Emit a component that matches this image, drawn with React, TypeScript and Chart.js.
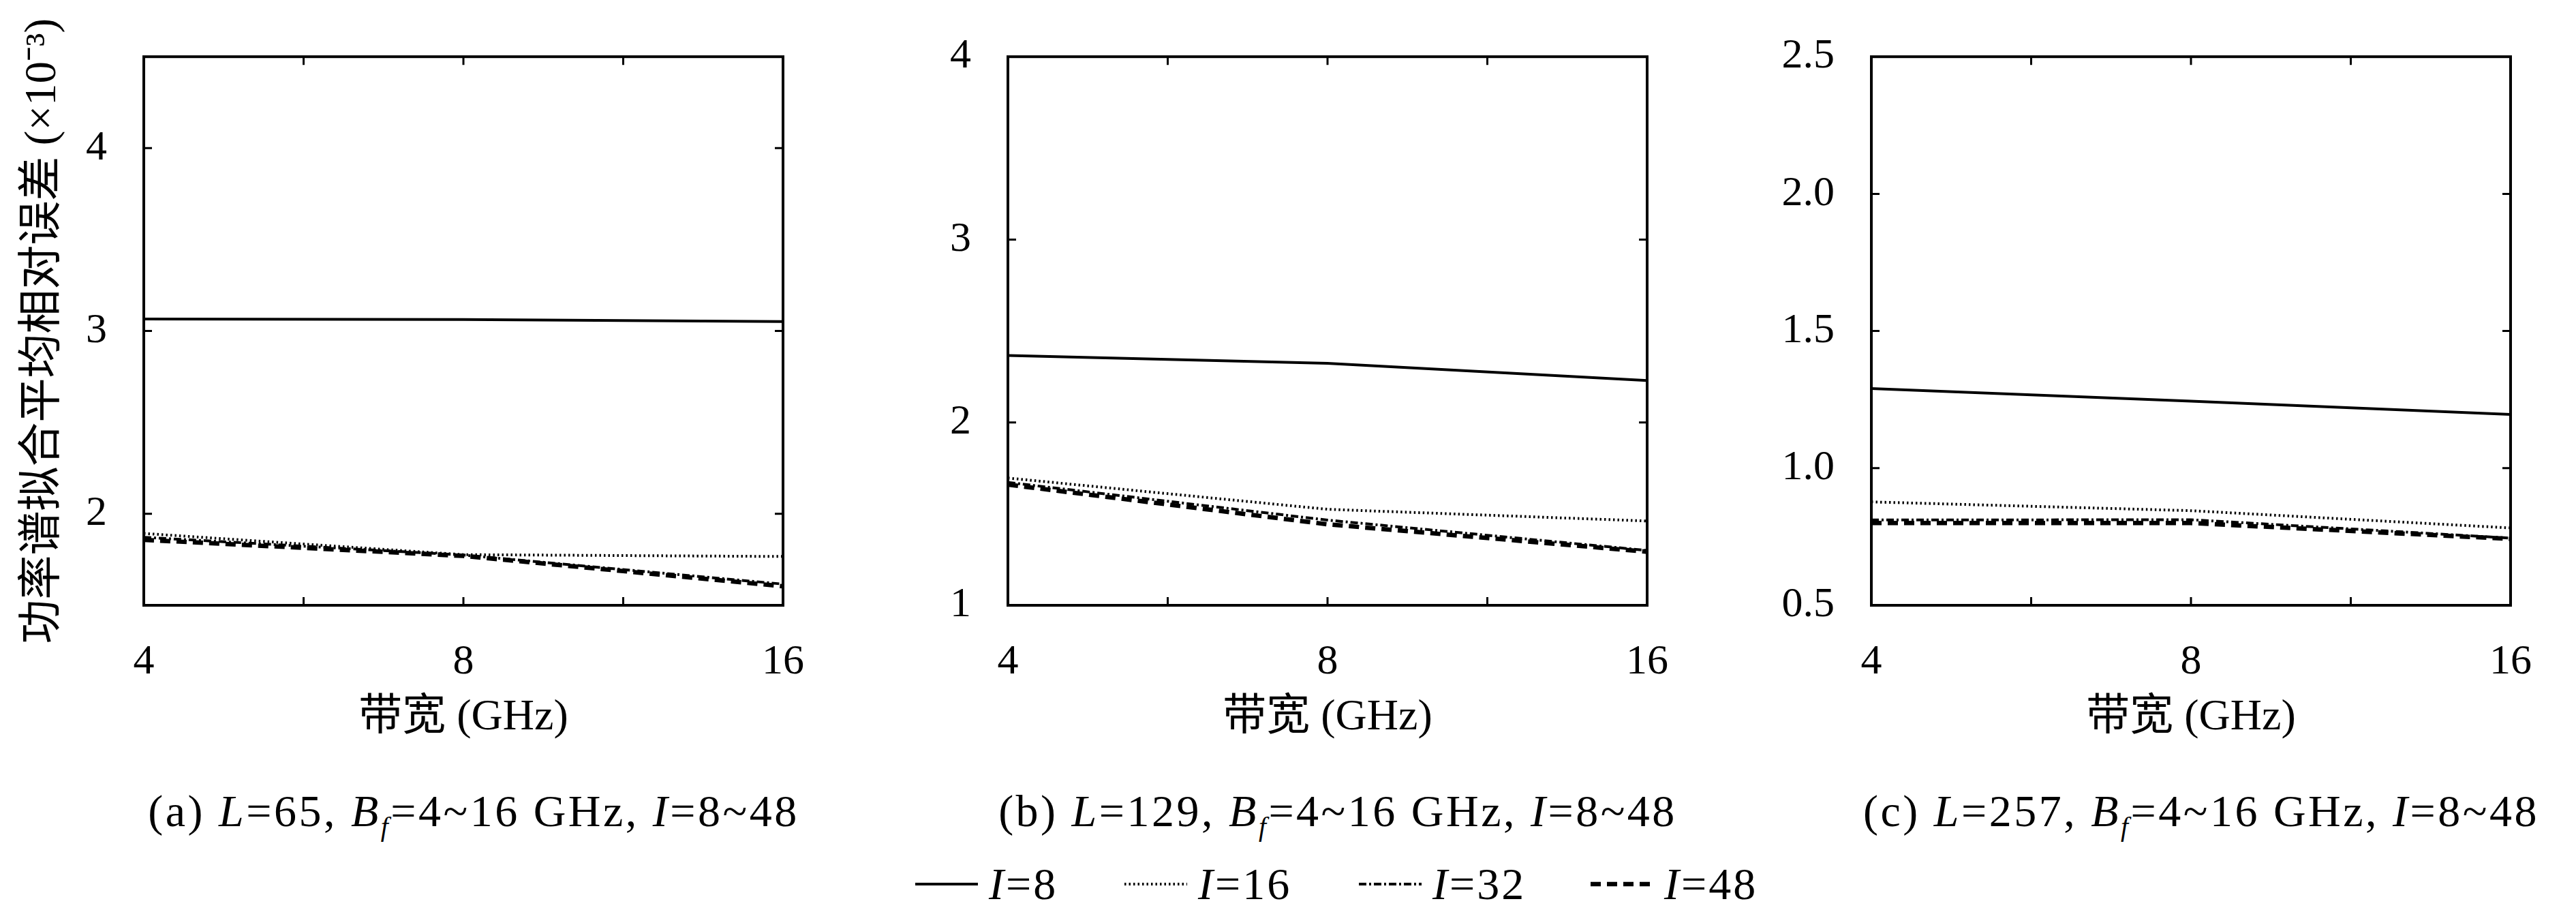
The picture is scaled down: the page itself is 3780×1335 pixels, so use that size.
import { useEffect, useRef } from "react";
import { Chart, registerables } from "chart.js";

Chart.register(...registerables);

// bandwidth (GHz) on the x axis
const bandwidths = [4, 8, 16];
const seriesNames = ["I=8", "I=16", "I=32", "I=48"];

// (a) L=65
const a_I8 = [3.066, 3.063, 3.052];
const a_I16 = [1.893, 1.777, 1.767];
const a_I32 = [1.872, 1.775, 1.616];
const a_I48 = [1.858, 1.77, 1.604];

// (b) L=129
const b_I8 = [2.366, 2.323, 2.229];
const b_I16 = [1.696, 1.525, 1.461];
const b_I32 = [1.672, 1.466, 1.3];
const b_I48 = [1.66, 1.443, 1.293];

// (c) L=257
const c_I8 = [1.29, 1.244, 1.196];
const c_I16 = [0.877, 0.845, 0.782];
const c_I32 = [0.811, 0.812, 0.745];
const c_I48 = [0.8, 0.8, 0.742];

const yTicksA = [2, 3, 4];
const yTicksB = [1, 2, 3, 4];
const yTicksC = [0.5, 1.0, 1.5, 2.0, 2.5];

const panelLetters = ["a", "b", "c"];
const panelL = [65, 129, 257];

const SERIF = "'Liberation Serif', 'Noto Sans CJK SC', serif";
const YTITLE = "功率谱拟合平均相对误差 (×10⁻³)";

const lineStyles = [
  { dash: [] as number[], width: 4 },
  { dash: [2.5, 4], width: 4 },
  { dash: [11, 4, 3, 4], width: 4 },
  { dash: [15, 9], width: 6.5 },
];

// layout (px)
const PLOT_TOP = 82;
const PLOT_H = 806;
const PLOT_W = 968;
const Y_AXIS_W = 211;
const RIGHT_PAD = 40;
const CANVAS_H = 1100;
const CANVAS_W = Y_AXIS_W + PLOT_W + RIGHT_PAD;
const plotLefts = [211, 1479, 2746];
const legendLefts = [1343, 1650, 1994, 2334];

const framePlugin = {
  id: "frame",
  afterDatasetsDraw(chart: any) {
    const { ctx, chartArea: a, scales } = chart;
    const xs = scales.x;
    const ys = scales.y;
    const tl = 12;
    ctx.save();
    ctx.strokeStyle = "#000";
    ctx.lineWidth = 3;
    const xv: number[] = xs.ticks.map((t: any) => t.value);
    const xPos: number[] = [];
    for (let i = 0; i < xv.length; i++) {
      xPos.push(xv[i]);
      if (i < xv.length - 1) xPos.push(Math.sqrt(xv[i] * xv[i + 1]));
    }
    ctx.beginPath();
    xPos.forEach((v) => {
      const px = xs.getPixelForValue(v);
      if (px <= a.left + 2 || px >= a.right - 2) return;
      ctx.moveTo(px, a.bottom);
      ctx.lineTo(px, a.bottom - tl);
      ctx.moveTo(px, a.top);
      ctx.lineTo(px, a.top + tl);
    });
    ys.ticks.forEach((t: any) => {
      const py = ys.getPixelForValue(t.value);
      if (py <= a.top + 2 || py >= a.bottom - 2) return;
      ctx.moveTo(a.left, py);
      ctx.lineTo(a.left + tl, py);
      ctx.moveTo(a.right, py);
      ctx.lineTo(a.right - tl, py);
    });
    ctx.stroke();
    ctx.lineWidth = 4;
    ctx.strokeRect(a.left, a.top, a.right - a.left, a.bottom - a.top);
    ctx.restore();
  },
};

const yTitlePlugin = {
  id: "ytitle",
  afterDraw(chart: any, _args: any, opts: any) {
    if (!opts || !opts.text) return;
    const { ctx, chartArea: a } = chart;
    ctx.save();
    ctx.translate(64, (a.top + a.bottom) / 2);
    ctx.rotate(-Math.PI / 2);
    ctx.fillStyle = "#000";
    ctx.font = `65px ${SERIF}`;
    ctx.textAlign = "center";
    ctx.textBaseline = "middle";
    ctx.fillText(opts.text, 0, 0);
    ctx.restore();
  },
};

type PanelProps = {
  index: number;
  series: number[][];
  yMin: number;
  yMax: number;
  yTicks: number[];
  decimals: number;
  showYTitle: boolean;
};

function Panel({ index, series, yMin, yMax, yTicks, decimals, showYTitle }: PanelProps) {
  const canvasRef = useRef<HTMLCanvasElement>(null);
  const chartRef = useRef<Chart | null>(null);

  useEffect(() => {
    if (!canvasRef.current) return;
    if (chartRef.current) chartRef.current.destroy();

    chartRef.current = new Chart(canvasRef.current, {
      type: "line",
      data: {
        datasets: series.map((vals, i) => ({
          label: seriesNames[i],
          data: bandwidths.map((b, j) => ({ x: b, y: vals[j] })),
          borderColor: "#000",
          backgroundColor: "#000",
          borderWidth: lineStyles[i].width,
          borderDash: lineStyles[i].dash,
          pointRadius: 0,
          tension: 0,
          fill: false,
        })),
      },
      options: {
        animation: false,
        responsive: false,
        devicePixelRatio: 1,
        layout: { padding: { top: PLOT_TOP, right: RIGHT_PAD, left: 0, bottom: 0 } },
        scales: {
          x: {
            type: "logarithmic",
            min: bandwidths[0],
            max: bandwidths[bandwidths.length - 1],
            afterBuildTicks: (s: any) => {
              s.ticks = bandwidths.map((v) => ({ value: v }));
            },
            afterFit: (s: any) => {
              s.height = CANVAS_H - PLOT_TOP - PLOT_H;
            },
            ticks: {
              callback: (v: any) => String(v),
              font: { family: SERIF, size: 62 },
              color: "#000",
              padding: 39,
              maxRotation: 0,
              autoSkip: false,
            },
            grid: { display: false },
            border: { display: false },
            title: {
              display: true,
              text: "带宽 (GHz)",
              font: { family: SERIF, size: 64 },
              color: "#000",
              padding: { top: 0, bottom: 8 },
            },
          },
          y: {
            type: "linear",
            min: yMin,
            max: yMax,
            afterBuildTicks: (s: any) => {
              s.ticks = yTicks.map((v) => ({ value: v }));
            },
            afterFit: (s: any) => {
              s.width = Y_AXIS_W;
            },
            ticks: {
              callback: (v: any) => Number(v).toFixed(decimals),
              font: { family: SERIF, size: 62 },
              color: "#000",
              padding: 46,
            },
            grid: { display: false },
            border: { display: false },
          },
        },
        plugins: {
          legend: { display: false },
          tooltip: { enabled: false },
          ytitle: { text: showYTitle ? YTITLE : "" },
        } as any,
      },
      plugins: [framePlugin, yTitlePlugin],
    });

    return () => {
      if (chartRef.current) {
        chartRef.current.destroy();
        chartRef.current = null;
      }
    };
  }, []);

  const left = plotLefts[index];
  return (
    <>
      <div style={{ position: "absolute", left: left - Y_AXIS_W, top: 0, width: CANVAS_W, height: CANVAS_H }}>
        <canvas ref={canvasRef} width={CANVAS_W} height={CANVAS_H} />
      </div>
      <div
        style={{
          position: "absolute",
          left: left - 150,
          width: PLOT_W + 300,
          top: 1154,
          height: 72,
          lineHeight: "72px",
          textAlign: "center",
          fontFamily: SERIF,
          fontSize: 66,
          letterSpacing: "3.5px",
          color: "#000",
          whiteSpace: "nowrap",
        }}
      >
        ({panelLetters[index]}) <i>L</i>={panelL[index]}, <i>B</i>
        <sub style={{ fontSize: "0.6em", lineHeight: 0 }}>
          <i>f</i>
        </sub>
        =4~16 GHz, <i>I</i>=8~48
      </div>
    </>
  );
}

function LegendSample({ i }: { i: number }) {
  const st = lineStyles[i];
  return (
    <svg width={92} height={20} style={{ marginRight: 16 }}>
      <line
        x1={0}
        y1={10}
        x2={92}
        y2={10}
        stroke="#000"
        strokeWidth={st.width}
        strokeDasharray={st.dash.length ? st.dash.join(" ") : undefined}
      />
    </svg>
  );
}

export default function App() {
  useEffect(() => {
    document.body.style.margin = "0";
    document.body.style.background = "#fff";
  }, []);

  return (
    <div style={{ position: "relative", width: 3780, height: 1335, background: "#fff", overflow: "hidden" }}>
      <Panel index={0} series={[a_I8, a_I16, a_I32, a_I48]} yMin={1.5} yMax={4.5} yTicks={yTicksA} decimals={0} showYTitle />
      <Panel index={1} series={[b_I8, b_I16, b_I32, b_I48]} yMin={1} yMax={4} yTicks={yTicksB} decimals={0} showYTitle={false} />
      <Panel index={2} series={[c_I8, c_I16, c_I32, c_I48]} yMin={0.5} yMax={2.5} yTicks={yTicksC} decimals={1} showYTitle={false} />
      {seriesNames.map((name, i) => (
        <div
          key={name}
          style={{
            position: "absolute",
            left: legendLefts[i],
            top: 1261,
            height: 72,
            display: "flex",
            alignItems: "center",
            fontFamily: SERIF,
            fontSize: 66,
            letterSpacing: "3px",
            color: "#000",
            whiteSpace: "nowrap",
          }}
        >
          <LegendSample i={i} />
          <span>
            <i>I</i>={name.slice(2)}
          </span>
        </div>
      ))}
    </div>
  );
}
